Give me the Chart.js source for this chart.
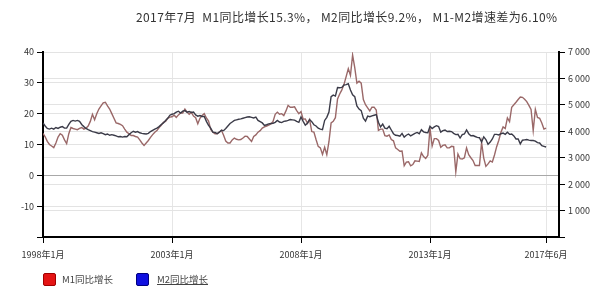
<!DOCTYPE html>
<html><head><meta charset="utf-8">
<script src="https://cdn.jsdelivr.net/npm/chart.js@4.4.0/dist/chart.umd.min.js"></script>
<style>
html,body{margin:0;padding:0;background:#fff;}
#wrap{position:relative;width:600px;height:306px;overflow:hidden;background:#fff;}
#c{position:absolute;left:0;top:0;}
.title{position:absolute;left:136px;top:9px;font-size:12px;font-family:"Noto Sans CJK SC";color:#333;white-space:pre;letter-spacing:0.4px;line-height:16px}
.lg{position:absolute;top:272px;font-size:9.5px;font-family:"Noto Sans CJK SC";color:#444;line-height:14px}
.sw{position:absolute;top:273px;width:11px;height:11px;border-radius:2px}
</style></head>
<body><div id="wrap"><canvas id="c" width="600" height="306"></canvas>
<div class="title">2017年7月  M1同比增长15.3%， M2同比增长9.2%， M1-M2增速差为6.10%</div>
<div class="sw" style="left:43px;background:#e41414;border:1px solid #a00000;"></div>
<div class="lg" style="left:62px;">M1同比增长</div>
<div class="sw" style="left:136px;background:#1010e0;border:1px solid #000080;"></div>
<div class="lg" style="left:157px;text-decoration:underline;">M2同比增长</div>
</div>
<script>
// monthly values, 1998-01 ... 2017-07
const m1Values = [
13.6,12.5,11.0,10.0,9.5,9.0,10.5,12.4,13.5,13.0,11.5,10.3,
13.5,15.5,15.2,15.0,14.8,15.2,15.5,15.0,15.3,16.0,17.5,19.8,
18.0,20.0,21.5,22.5,23.5,23.7,22.5,21.5,20.0,18.5,17.0,16.8,
16.5,16.1,15.0,14.0,13.5,12.9,12.9,12.6,12.4,11.5,10.5,9.7,
10.5,11.3,12.3,13.2,14.0,14.5,15.5,16.2,17.2,17.5,18.5,18.9,
19.0,19.5,18.8,19.6,20.2,20.2,21.5,20.5,19.8,20.4,19.2,18.7,
16.7,18.5,19.4,20.0,18.6,17.6,14.9,14.0,13.5,13.5,14.0,14.6,
13.0,11.1,10.5,10.5,11.5,12.1,11.7,11.5,11.6,12.1,12.7,12.6,
11.8,11.0,12.6,13.1,14.0,14.5,15.3,15.7,16.0,16.3,16.7,17.5,
19.8,20.5,19.8,20.0,19.4,20.9,22.7,22.1,22.1,22.2,21.0,20.0,
20.7,18.2,18.3,16.9,18.1,14.2,14.0,11.6,9.4,8.9,6.8,9.1,
6.7,10.9,17.0,17.5,18.7,24.8,26.4,27.7,29.5,32.0,34.6,32.4,
39.0,34.9,29.9,30.5,29.9,24.6,22.9,21.9,20.9,22.1,22.1,21.2,
14.6,15.0,15.0,12.9,12.7,13.1,11.6,11.2,8.9,8.4,7.8,7.9,
3.1,4.3,4.4,3.1,3.5,4.7,4.6,4.5,7.3,6.1,5.5,6.5,
15.3,9.5,11.9,11.9,11.3,9.1,9.7,9.9,8.9,8.9,9.4,9.3,
1.2,6.9,5.4,5.3,5.7,8.9,6.7,5.7,4.8,3.2,3.2,3.2,
10.6,5.6,2.9,3.7,4.7,4.3,6.6,9.3,11.4,14.0,15.7,15.2,
18.6,17.4,22.1,22.9,23.7,24.6,25.4,25.3,24.7,23.9,22.7,21.4,
14.5,21.4,18.8,18.5,17.0,15.0,15.3
];
const m2Values = [
17.0,16.0,15.2,15.0,15.3,15.0,15.5,15.2,15.6,15.8,15.3,15.3,
16.5,17.5,17.8,17.6,17.8,17.5,16.5,15.8,15.2,14.8,14.5,14.2,
14.0,13.8,13.6,13.8,13.5,13.2,13.4,13.0,13.2,13.0,12.8,12.5,
12.6,12.4,12.6,12.5,13.2,13.8,14.3,14.0,14.2,13.8,13.6,13.5,
13.4,13.6,14.2,14.6,15.0,15.3,15.8,16.5,17.0,17.8,18.5,19.5,
19.8,20.0,20.5,20.8,20.2,20.8,21.0,20.5,20.7,20.4,20.5,19.6,
19.2,19.4,19.1,19.1,17.5,16.2,15.3,14.0,13.9,13.5,14.0,14.6,
14.5,15.2,16.0,16.8,17.3,17.8,18.0,18.2,18.3,18.5,18.7,18.9,
19.0,18.8,18.6,18.9,17.8,17.4,17.0,16.2,16.4,16.7,16.8,16.9,
17.2,17.8,17.3,17.1,17.5,17.6,17.8,18.1,18.0,17.9,17.5,17.2,
18.9,17.5,16.3,16.9,18.1,17.4,16.4,16.0,15.3,15.0,14.8,17.8,
18.8,20.5,25.5,26.0,25.7,28.5,28.4,28.5,29.3,29.4,29.7,27.7,
26.1,25.5,22.5,21.5,21.0,18.5,17.6,19.2,19.0,19.3,19.5,19.7,
17.2,15.7,16.6,15.3,15.1,15.9,14.7,13.5,13.0,12.9,12.7,13.6,
12.4,13.0,13.4,12.8,13.2,13.6,13.9,13.5,14.8,14.1,13.9,13.8,
15.9,15.2,15.7,16.1,15.8,14.0,14.5,14.7,14.2,14.3,14.2,13.6,
13.2,13.3,12.1,13.2,13.4,14.7,13.5,12.8,12.9,12.6,12.3,12.2,
10.8,12.5,11.6,10.1,10.8,11.8,13.3,13.3,13.1,13.5,13.7,13.3,
14.0,13.3,13.4,12.8,11.8,11.8,10.2,11.4,11.5,11.6,11.4,11.3,
11.3,11.1,10.6,10.5,9.6,9.4,9.2
];
const xTickMonths = [0, 60, 120, 180, 234];
const xTickLabels = ['1998年1月', '2003年1月', '2008年1月', '2013年1月', '2017年6月'];
const leftAxisRange = [-20, 40];
const rightAxisRange = [0, 7000];

const tickFont = {family: '"Noto Sans CJK SC"', size: 9};
const toPoints = arr => arr.map((v, i) => ({x: i, y: v}));

new Chart(document.getElementById('c'), {
  type: 'line',
  data: {
    datasets: [
      {label: 'M2同比增长', data: toPoints(m2Values), borderColor: '#3b3b48', borderWidth: 1.4,
       pointRadius: 0, tension: 0, yAxisID: 'y', fill: false},
      {label: 'M1同比增长', data: toPoints(m1Values), borderColor: '#9a6868', borderWidth: 1.4,
       pointRadius: 0, tension: 0, yAxisID: 'y', fill: false}
    ]
  },
  options: {
    responsive: false,
    devicePixelRatio: 1,
    animation: false,
    layout: {padding: {top: 52, left: 0, right: 0, bottom: 0}},
    plugins: {legend: {display: false}, tooltip: {enabled: false}, title: {display: false}},
    scales: {
      x: {
        type: 'linear', min: 0, max: 240, position: 'bottom',
        afterBuildTicks: s => { s.ticks = xTickMonths.map(v => ({value: v})); },
        afterFit: s => { s.height = 69; },
        ticks: {autoSkip: false, maxRotation: 0, font: tickFont, color: '#333', padding: 6,
          callback: v => { const i = xTickMonths.indexOf(v); return i >= 0 ? xTickLabels[i] : ''; }},
        grid: {color: '#e6e6e6', tickColor: '#000', tickLength: 6, drawOnChartArea: true},
        border: {color: '#000', width: 2}
      },
      y: {
        position: 'left', min: leftAxisRange[0], max: leftAxisRange[1],
        afterFit: s => { s.width = 43; },
        ticks: {stepSize: 10, font: tickFont, color: '#333', padding: 3,
          callback: v => v === leftAxisRange[0] ? '' : v},
        grid: {color: c => c.tick && c.tick.value === 0 ? '#a8a8a8' : '#e3e3e3', tickColor: '#000', tickLength: 6},
        border: {color: '#000', width: 2}
      },
      y2: {
        position: 'right', min: rightAxisRange[0], max: rightAxisRange[1],
        afterFit: s => { s.width = 41; },
        ticks: {stepSize: 1000, font: tickFont, color: '#333', padding: 3,
          callback: v => v === 0 ? '' : (v / 1000) + ' 000'},
        grid: {color: '#e3e3e3', tickColor: '#000', tickLength: 6},
        border: {color: '#000', width: 2}
      }
    }
  }
});
</script>
</body></html>
